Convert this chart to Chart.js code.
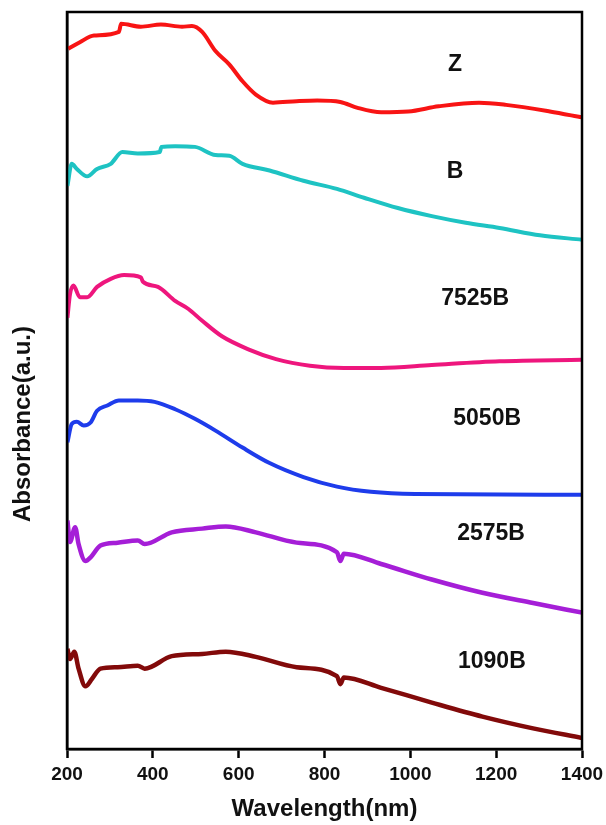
<!DOCTYPE html>
<html>
<head>
<meta charset="utf-8">
<script src="https://cdn.jsdelivr.net/npm/chart.js@4"></script>
<style>
  html, body { margin: 0; padding: 0; background: #ffffff; }
  #wrap { width: 606px; height: 825px; }
</style>
</head>
<body>
<div id="wrap"><canvas id="myChart" width="606" height="825"></canvas></div>
<script>
// wavelength (nm) / absorbance (a.u., stacked offsets)
var zX = [203, 230, 263, 321, 326, 372, 419, 468, 491, 515, 546, 578, 609, 640, 680, 735, 783, 837, 877, 932, 995, 1066, 1160, 1223, 1325, 1400];
var zY = [95.0, 95.9, 96.8, 97.3, 98.4, 98.0, 98.3, 98.0, 98.1, 97.3, 94.7, 92.9, 90.6, 88.8, 87.7, 87.9, 88.0, 87.8, 87.0, 86.4, 86.5, 87.2, 87.7, 87.4, 86.5, 85.7];

var bX = [201, 211, 223, 247, 270, 302, 329, 365, 416, 420, 452, 498, 546, 578, 609, 672, 751, 829, 892, 971, 1050, 1129, 1208, 1302, 1400];
var bY = [76.4, 79.4, 78.7, 77.7, 78.7, 79.4, 81.0, 80.8, 81.0, 81.7, 81.8, 81.7, 80.6, 80.5, 79.4, 78.5, 77.1, 76.0, 74.8, 73.4, 72.3, 71.4, 70.7, 69.7, 69.1];

var b7525X = [201, 207, 215, 230, 247, 270, 302, 333, 372, 377, 412, 452, 483, 515, 561, 624, 687, 766, 845, 932, 1050, 1208, 1400];
var b7525Y = [58.5, 61.7, 62.9, 61.3, 61.3, 62.7, 63.8, 64.3, 64.0, 63.4, 62.7, 60.8, 59.7, 58.1, 56.0, 54.2, 52.9, 52.0, 51.7, 51.7, 52.1, 52.6, 52.8];

var b5050X = [201, 211, 223, 239, 255, 270, 294, 321, 365, 404, 452, 498, 546, 609, 672, 751, 829, 908, 1011, 1400];
var b5050Y = [41.6, 44.1, 44.4, 43.9, 44.3, 45.9, 46.6, 47.3, 47.3, 47.1, 46.1, 44.8, 43.2, 40.9, 38.8, 36.9, 35.6, 34.9, 34.6, 34.5];

var b2575X = [201, 207, 219, 227, 243, 255, 278, 318, 365, 381, 444, 515, 570, 640, 735, 829, 837, 845, 932, 1050, 1168, 1286, 1400];
var b2575Y = [31.0, 28.1, 30.1, 27.8, 25.5, 26.0, 27.6, 28.0, 28.3, 27.8, 29.4, 29.9, 30.2, 29.4, 28.0, 26.7, 25.5, 26.5, 25.1, 23.0, 21.2, 19.8, 18.5];

var b1090X = [201, 207, 217, 227, 243, 258, 278, 318, 365, 381, 444, 515, 570, 640, 735, 829, 837, 845, 932, 1050, 1168, 1286, 1400];
var b1090Y = [13.6, 12.2, 13.2, 10.9, 8.5, 9.5, 10.9, 11.1, 11.3, 10.9, 12.6, 12.9, 13.2, 12.5, 11.1, 9.9, 8.8, 9.7, 8.3, 6.3, 4.4, 2.8, 1.5];

var seriesNames = ["Z", "B", "7525B", "5050B", "2575B", "1090B"];
var seriesColors = ["#f81414", "#1ec3c3", "#ee167d", "#1e3ceb", "#a51ed7", "#820a0a"];
var tickValues = [200, 400, 600, 800, 1000, 1200, 1400];

// where the curve names sit (wavelength, absorbance)
var labelX = [1104, 1104, 1151, 1179, 1188, 1190];
var labelY = [92.9, 78.4, 61.1, 44.8, 29.2, 11.9];

function toPoints(xs, ys) {
  var pts = [];
  for (var i = 0; i < xs.length; i++) {
    pts.push({ x: xs[i], y: ys[i] });
  }
  return pts;
}

var allX = [zX, bX, b7525X, b5050X, b2575X, b1090X];
var allY = [zY, bY, b7525Y, b5050Y, b2575Y, b1090Y];
var datasets = [];
for (var i = 0; i < seriesNames.length; i++) {
  datasets.push({
    label: seriesNames[i],
    data: toPoints(allX[i], allY[i]),
    borderColor: seriesColors[i],
    borderWidth: i >= 4 ? 4.5 : 4,
    pointRadius: 0,
    cubicInterpolationMode: "monotone",
    fill: false,
  });
}

var FONT = "'Liberation Sans', Arial, sans-serif";

// frame, curve names and the shifted y title
var decorPlugin = {
  id: "decor",
  afterDraw: function (chart) {
    var ctx = chart.ctx;
    var a = chart.chartArea;
    var xs = chart.scales.x;
    var ys = chart.scales.y;
    ctx.save();
    ctx.strokeStyle = "#000";
    ctx.lineWidth = 2.5;
    ctx.strokeRect(a.left, a.top, a.right - a.left, a.bottom - a.top);

    ctx.fillStyle = "#111";
    ctx.font = "bold 23px " + FONT;
    ctx.textAlign = "center";
    ctx.textBaseline = "middle";
    for (var i = 0; i < seriesNames.length; i++) {
      ctx.fillText(seriesNames[i], xs.getPixelForValue(labelX[i]), ys.getPixelForValue(labelY[i]));
    }

    ctx.font = "bold 24px " + FONT;
    ctx.translate(23, 424);
    ctx.rotate(-Math.PI / 2);
    ctx.fillText("Absorbance(a.u.)", 0, 0);
    ctx.restore();
  },
};

new Chart("myChart", {
  type: "line",
  data: { datasets: datasets },
  options: {
    responsive: false,
    animation: false,
    layout: { padding: { top: 12, right: 24, left: 0, bottom: 0 } },
    plugins: {
      legend: { display: false },
      tooltip: { enabled: false },
    },
    scales: {
      x: {
        type: "linear",
        min: 200,
        max: 1400,
        afterBuildTicks: function (scale) {
          scale.ticks = tickValues.map(function (v) { return { value: v }; });
        },
        afterFit: function (scale) {
          scale.height = 76;
          scale.paddingLeft = 0;
          scale.paddingRight = 0;
        },
        grid: {
          drawOnChartArea: false,
          drawTicks: true,
          tickLength: 9,
          tickWidth: 2.5,
          tickColor: "#000",
        },
        border: { display: true, color: "#000", width: 2.5 },
        ticks: {
          color: "#111",
          padding: 5,
          maxRotation: 0,
          callback: function (v) { return String(v); },
          font: { family: FONT, size: 19, weight: "bold" },
        },
        title: {
          display: true,
          text: "Wavelength(nm)",
          color: "#111",
          padding: { top: 0, bottom: 1 },
          font: { family: FONT, size: 24, weight: "bold" },
        },
      },
      y: {
        type: "linear",
        min: 0,
        max: 100,
        afterFit: function (scale) { scale.width = 67; },
        grid: { display: false },
        border: { display: true, color: "#000", width: 2.5 },
        ticks: { display: false },
      },
    },
  },
  plugins: [decorPlugin],
});
</script>
</body>
</html>
